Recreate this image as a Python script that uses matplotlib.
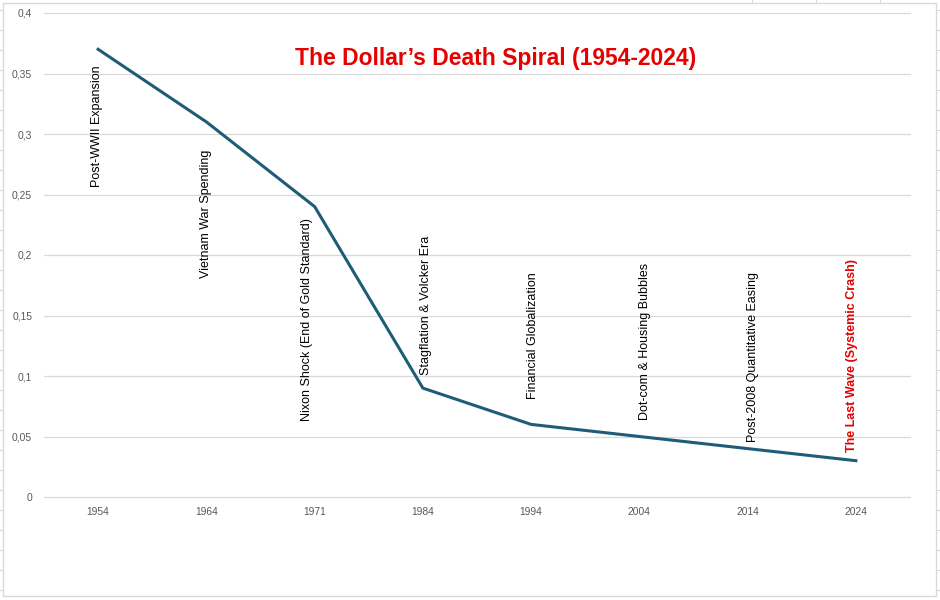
import matplotlib.pyplot as plt
from matplotlib.patches import Rectangle
from matplotlib.lines import Line2D

# data
years = ["1954", "1964", "1971", "1984", "1994", "2004", "2014", "2024"]
value = [0.37, 0.31, 0.24, 0.09, 0.06, 0.05, 0.04, 0.03]
events = [
    "Post-WWII Expansion",
    "Vietnam War Spending",
    "Nixon Shock (End of Gold Standard)",
    "Stagflation & Volcker Era",
    "Financial Globalization",
    "Dot-com & Housing Bubbles",
    "Post-2008 Quantitative Easing",
    "The Last Wave (Systemic Crash)",
]
y_ticks = [0, 0.05, 0.1, 0.15, 0.2, 0.25, 0.3, 0.35, 0.4]

# label placement (pixel offsets from each point), below for the first three
label_below = [True, True, True, False, False, False, False, False]
label_dx = [-1, 0, -8, 3, 2, 6, 5, -4]
label_dy = [16, 28, 12, 13, 25, 16, 7, 9]

LINE = "#1e5c78"
GRID = "#d9d9d9"
RED = "#e60000"

plt.rcParams["font.family"] = ["Liberation Sans", "DejaVu Sans"]

fig = plt.figure(figsize=(9.4, 6.0), dpi=100)
W, H = 940, 600

# spreadsheet cell lines outside the chart, then the chart frame
for yy in range(10, 600, 20):
    fig.add_artist(Line2D([0, 3 / W], [1 - yy / H] * 2, color=GRID, lw=0.8))
    fig.add_artist(Line2D([936 / W, 1], [1 - yy / H] * 2, color=GRID, lw=0.8))
for xx in [752, 816, 880]:
    fig.add_artist(Line2D([xx / W] * 2, [1 - 3 / H, 1], color=GRID, lw=0.8))
fig.add_artist(Rectangle((3 / W, 4 / H), 933 / W, 593 / H, transform=fig.transFigure,
                         fill=False, edgecolor=GRID, lw=1.0))

ax = fig.add_axes([44 / W, 1 - 497 / H, 866 / W, 484 / H])
x = list(range(len(years)))
ax.plot(x, value, color=LINE, lw=2.2, solid_joinstyle="miter")

ax.set_xlim(-0.5, len(years) - 0.5)
ax.set_ylim(0, 0.4)
ax.set_yticks(y_ticks)
ax.set_yticklabels([("%g" % t).replace(".", ",") for t in y_ticks])
ax.set_xticks(x)
ax.set_xticklabels(years)
ax.tick_params(length=0, labelsize=7.4, labelcolor="#595959")
ax.tick_params(axis="y", pad=8.5)
ax.tick_params(axis="x", pad=7)
ax.grid(axis="y", color=GRID, lw=0.9)
for gl in ax.get_ygridlines():
    gl.set_clip_on(False)
ax.set_axisbelow(True)
for s in ax.spines.values():
    s.set_visible(False)

for i, txt in enumerate(events):
    last = i == len(events) - 1
    if label_below[i]:
        off, va = -label_dy[i], "top"
    else:
        off, va = label_dy[i], "bottom"
    ax.annotate(txt, (x[i], value[i]), xytext=(label_dx[i], off),
                textcoords="offset pixels", rotation=90, ha="center", va=va,
                fontsize=9, color=RED if last else "black",
                fontweight="bold" if last else "normal")

fig.text(496 / W, 1 - 58 / H, "The Dollar\u2019s Death Spiral (1954-2024)",
         ha="center", va="center", fontsize=16.5, fontweight="bold", color=RED)

fig.savefig("out.png", dpi=100)
